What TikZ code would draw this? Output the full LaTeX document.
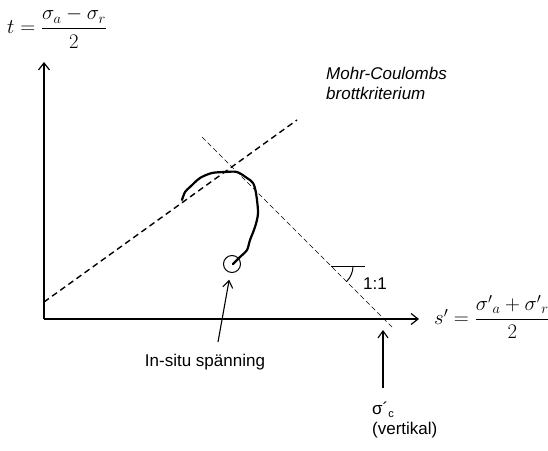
\documentclass[tikz,border=0pt]{standalone}
\usepackage{fontspec}
\setmainfont{Liberation Sans}
\usepackage{amsmath}
\usetikzlibrary{arrows.meta,calc,positioning}

\begin{document}
\begin{tikzpicture}[x=1pt,y=-1pt,
    axis/.style={line width=1.2pt,-{Straight Barb[length=7pt,width=11pt,line width=1.2pt]}},
    pil/.style={line width=1.1pt,-{Straight Barb[length=7pt,width=10pt,line width=1.1pt]}},
    brott/.style={line width=1.4pt,dash pattern=on 6pt off 4pt},
    hjalp/.style={line width=0.7pt,dash pattern=on 5pt off 3pt},
    txt/.style={font=\fontsize{17}{20}\selectfont,inner sep=0pt},
    formel/.style={font=\fontsize{21}{25}\selectfont,inner sep=0pt}]

\useasboundingbox (0,0) rectangle (548,450);

% Axes
\coordinate (O) at (44,319);
\coordinate (ytop) at (44,62);
\coordinate (xend) at (419,319);
\draw[axis] (O) -- (ytop);
\draw[axis] (O) -- (xend);
\node[formel,anchor=west] (tlab) at (7,28) {$t=\dfrac{\sigma_a-\sigma_r}{2}$};
\node[formel,anchor=west] (slab) at (434,317) {$s'=\dfrac{\sigma'{}_a+\sigma'{}_r}{2}$};

% Mohr-Coulomb line
\coordinate (mc1) at (44,302);
\coordinate (mc2) at (297,120);
\draw[brott] (mc1) -- (mc2);
\node[txt,font=\fontsize{17}{20}\selectfont\itshape,align=left,anchor=west] (mclab) at (326,83)
    {Mohr-Coulombs\\brottkriterium};

% 1:1 line
\coordinate (h1) at (202,137);
\coordinate (h2) at (392,327);
\draw[hjalp] (h1) -- (h2);
\coordinate (v0) at (331,266);
\draw[line width=1pt] (v0) -- ++(34,0);
\draw[line width=1pt] ($(v0)+(22,0)$) arc[start angle=0,end angle=45,radius=22];
\node[txt,anchor=west] (lutn) at (363,284) {1:1};

% Stress path
\node[circle,draw,line width=1pt,minimum size=17pt,inner sep=0pt] (insitu) at (232,264) {};
\draw[line width=2.2pt,line cap=round,line join=round] plot[smooth,tension=0.5] coordinates {
    (182,200) (185,192) (190,187) (200,178) (212,173) (225,172) (237,172) (247,178)
    (253,183) (256,193) (258,213) (255,227) (250,240) (247,250) (240,257) (233,264)};

% Labels
\node[txt] (inlab) at (205,362) {In-situ spänning};
\coordinate (p1) at (218,342);
\draw[pil,shorten >=7pt] (p1) -- (insitu);
\node[txt,align=left,anchor=north west] (sigc) at (372,402)
    {σ´\raisebox{-3pt}{\fontsize{11}{11}\selectfont c}\\(vertikal)};
\coordinate (p2) at (383,388);
\coordinate (p3) at (383,330);
\draw[pil] (p2) -- (p3);

\end{tikzpicture}
\end{document}
